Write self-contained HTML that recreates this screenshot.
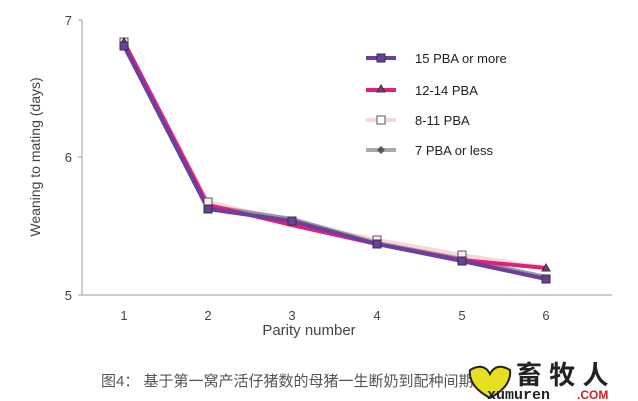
<!DOCTYPE html>
<html><head><meta charset="utf-8"><style>
body{margin:0;background:#fff;}
svg{display:block;font-family:"Liberation Sans",Arial,sans-serif;}
</style></head><body>
<svg width="638" height="401" viewBox="0 0 638 401">
<rect width="638" height="401" fill="#fff"/>
<line x1="82" y1="20" x2="82" y2="295" stroke="#999" stroke-width="1"/>
<line x1="82" y1="295" x2="612" y2="295" stroke="#999" stroke-width="1"/>
<g stroke="#999"><line x1="78" y1="20" x2="82" y2="20"/><line x1="78" y1="157" x2="82" y2="157"/><line x1="78" y1="295" x2="82" y2="295"/></g>
<g font-size="13" fill="#444" text-anchor="end"><text x="72" y="25">7</text><text x="72" y="162">6</text><text x="72" y="300">5</text></g>
<g font-size="13" fill="#444" text-anchor="middle"><text x="124" y="320">1</text><text x="208" y="320">2</text><text x="292" y="320">3</text><text x="377" y="320">4</text><text x="462" y="320">5</text><text x="546" y="320">6</text></g>
<text x="309" y="335" font-size="15" fill="#444" text-anchor="middle">Parity number</text>
<text transform="translate(40,157) rotate(-90)" font-size="14" fill="#444" text-anchor="middle">Weaning to mating (days)</text>
<polyline points="124,42 208,202 292,222 377,240 462,255 546,268" fill="none" stroke="#f4d8d8" stroke-width="4"/>
<polyline points="124,43 208,206 292,219 377,243 462,259 546,277" fill="none" stroke="#999" stroke-width="4"/>
<polyline points="124,42 208,205 292,225 377,244 462,260 546,268" fill="none" stroke="#e0207a" stroke-width="4"/>
<polyline points="124,46 208,209 292,221 377,244 462,261 546,279" fill="none" stroke="#6a3fa0" stroke-width="4"/>
<g fill="#f8f0f0" stroke="#555"><rect x="120" y="38" width="8" height="8"/><rect x="204" y="198" width="8" height="8"/><rect x="373" y="236" width="8" height="8"/><rect x="458" y="251" width="8" height="8"/></g>
<g fill="#8a3080" stroke="#333"><polygon points="124,38 128,45 120,45"/><polygon points="546,264 550,271 542,271"/></g>
<g fill="#6a3fa0" stroke="#333"><rect x="120" y="42" width="8" height="8"/><rect x="204" y="205" width="8" height="8"/><rect x="288" y="217" width="8" height="8"/><rect x="373" y="240" width="8" height="8"/><rect x="458" y="257" width="8" height="8"/><rect x="542" y="275" width="8" height="8"/></g>
<g font-size="13" fill="#222">
<line x1="366" y1="58" x2="396" y2="58" stroke="#6a3fa0" stroke-width="4"/><rect x="377" y="54" width="8" height="8" fill="#6a3fa0" stroke="#333"/><text x="415" y="63">15 PBA or more</text>
<line x1="366" y1="90" x2="396" y2="90" stroke="#e0207a" stroke-width="4"/><polygon points="381,85 385,92 377,92" fill="#8a3080" stroke="#333"/><text x="415" y="95">12-14 PBA</text>
<line x1="366" y1="120" x2="396" y2="120" stroke="#f4d8d8" stroke-width="4"/><rect x="377" y="116" width="8" height="8" fill="#fff" stroke="#555"/><text x="415" y="125">8-11 PBA</text>
<line x1="366" y1="150" x2="396" y2="150" stroke="#aaa" stroke-width="4"/><polygon points="381,146 385,150 381,154 377,150" fill="#555"/><text x="415" y="155">7 PBA or less</text>
</g>
<text x="101" y="386" font-size="15" fill="#555" font-family="'Liberation Sans','Noto Sans CJK SC',sans-serif">图4：  基于第一窝产活仔猪数的母猪一生断奶到配种间期</text>
<path d="M470 370 q14 -8 20 4 q6 -12 20 -4 q2 16 -20 28 q-22 -12 -20 -28z" fill="#e6e020" stroke="#222" stroke-width="2"/>
<text x="516" y="384" font-size="26" font-weight="bold" fill="#222" font-family="'Liberation Sans','Noto Sans CJK SC',sans-serif">畜 牧 人</text>
<text x="487" y="399" font-size="15" font-weight="bold" fill="#222" font-family="'Liberation Mono',monospace">xumuren</text><text x="577" y="399" font-size="12" font-weight="bold" fill="#d02020">.COM</text>
</svg>
</body></html>
